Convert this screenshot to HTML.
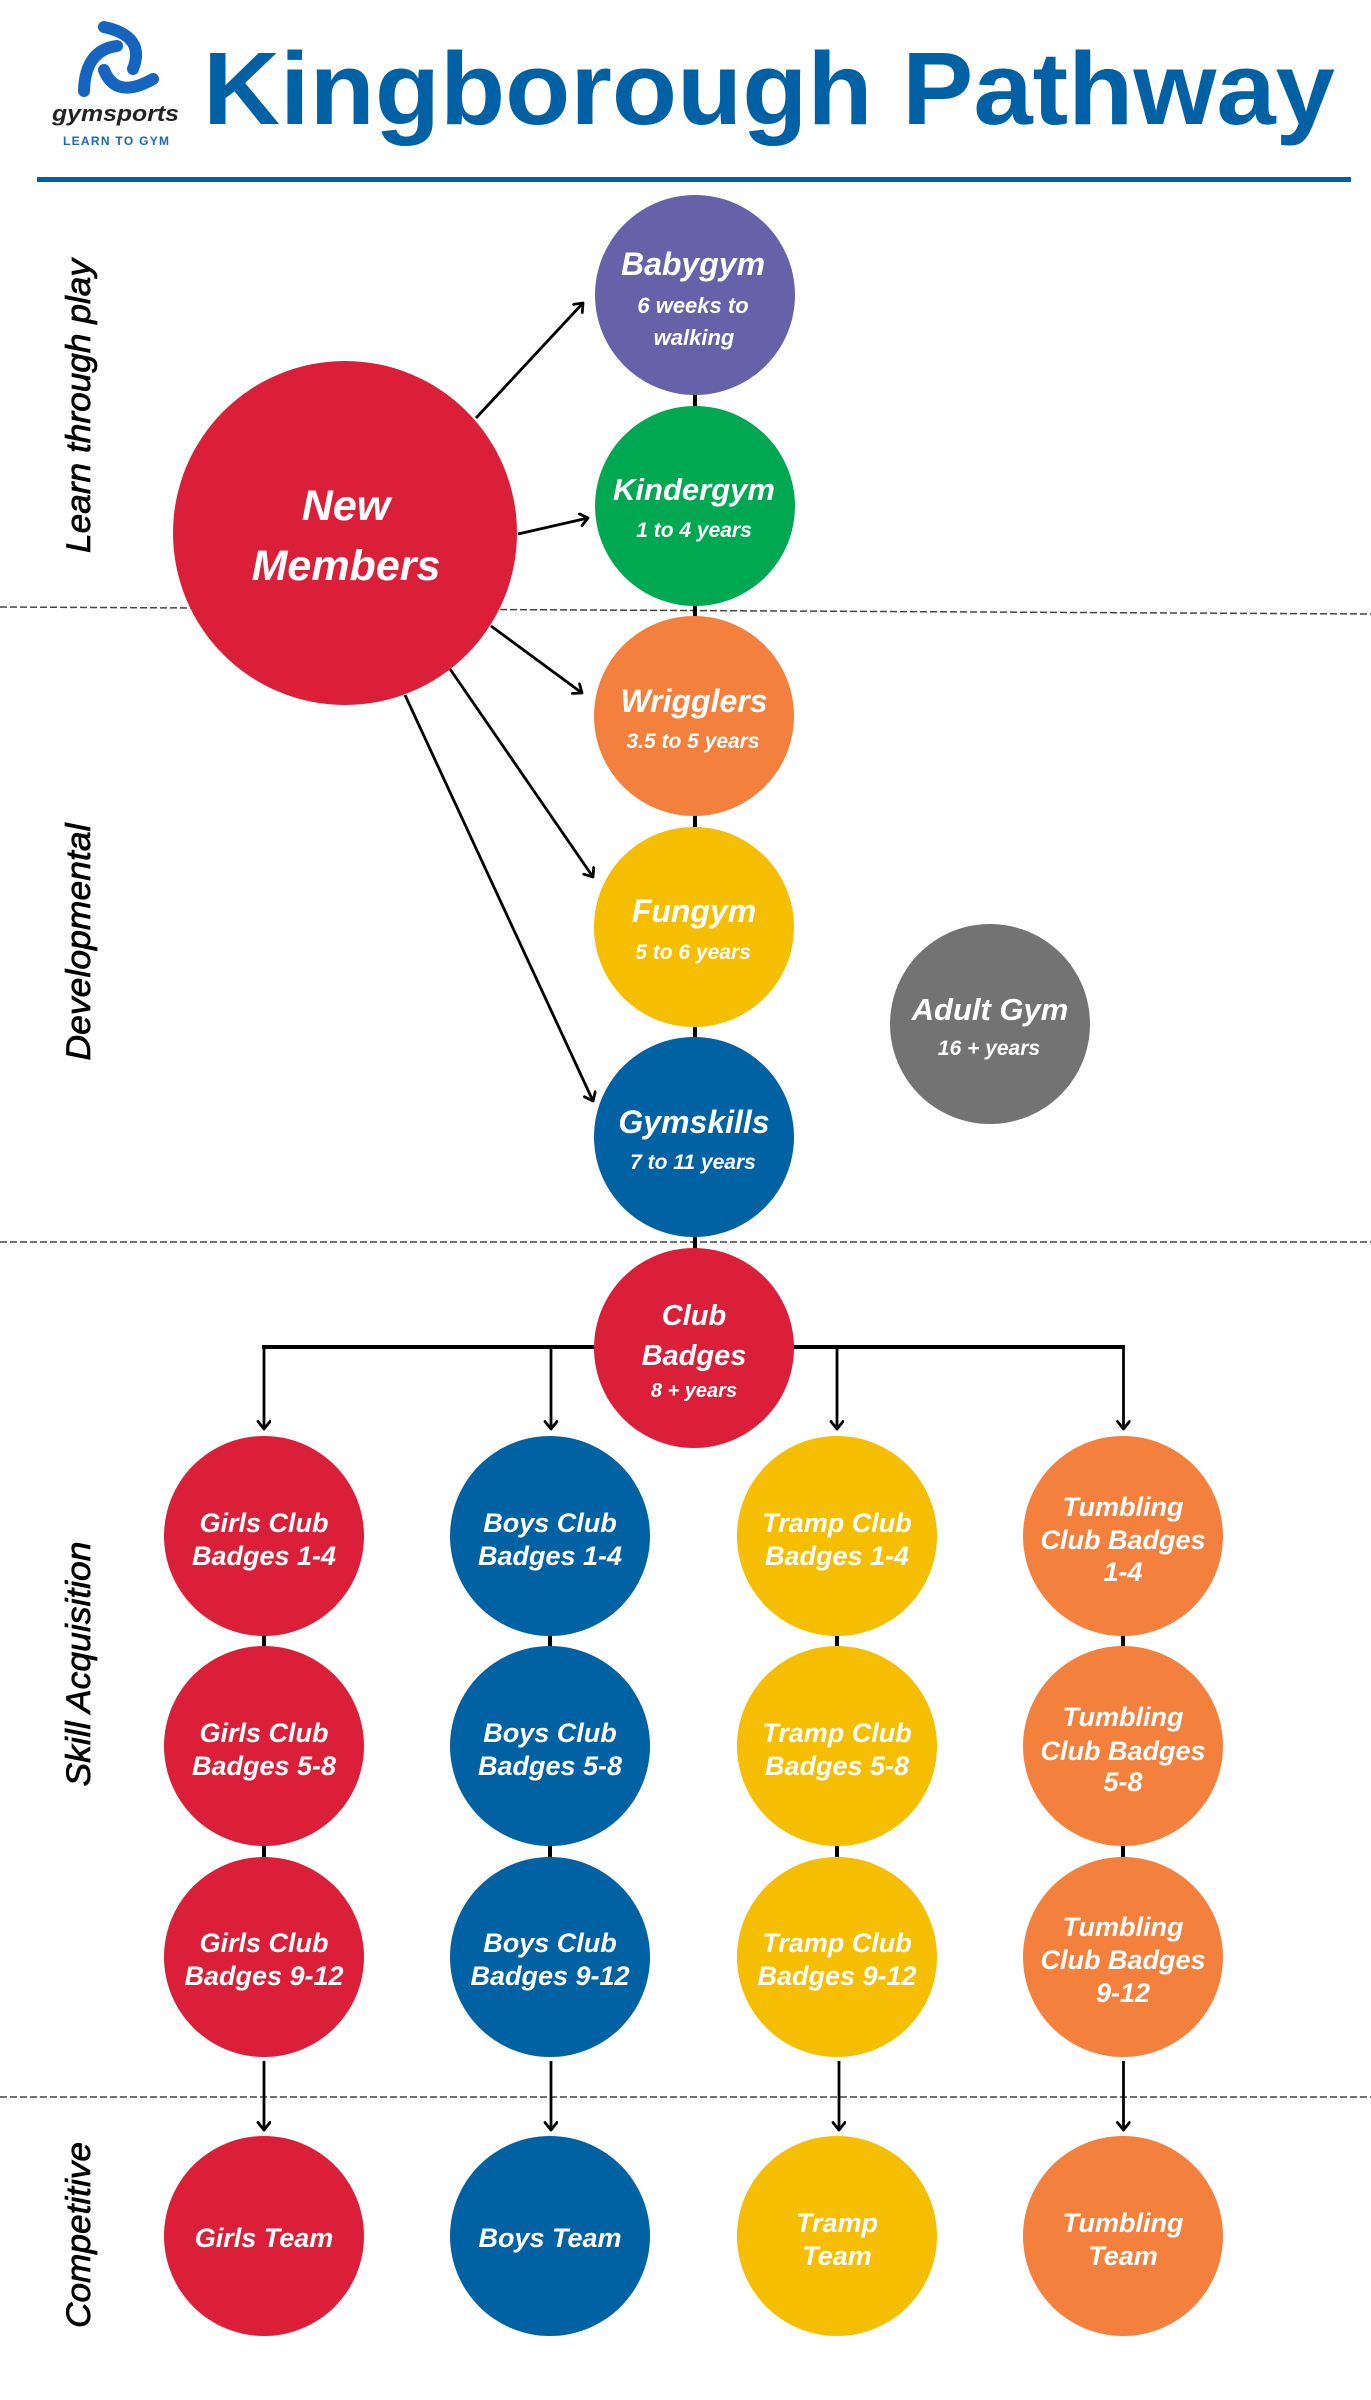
<!DOCTYPE html>
<html>
<head>
<meta charset="utf-8">
<style>
  html,body{margin:0;padding:0;background:#fff;}
  body{width:1371px;height:2400px;overflow:hidden;}
  svg{display:block;}
  .t{font-family:"Liberation Sans",sans-serif;font-weight:bold;font-style:italic;fill:#fff;text-anchor:middle;}
  .lab{font-family:"Liberation Sans",sans-serif;font-style:italic;fill:#000;stroke:#000;stroke-width:0.7;text-anchor:middle;}
</style>
</head>
<body>
<svg width="1371" height="2400" viewBox="0 0 1371 2400" xmlns="http://www.w3.org/2000/svg">
  <defs>
    <marker id="ah" markerUnits="userSpaceOnUse" markerWidth="16" markerHeight="16" refX="9" refY="7" orient="auto">
      <path d="M1.5,1 L9,7 L1.5,13" fill="none" stroke="#000" stroke-width="2.8" stroke-linecap="round" stroke-linejoin="round"/>
    </marker>
  </defs>

  <!-- Header logo -->
  <g fill="none" stroke="#1565c0" stroke-linecap="round">
    <path d="M104,27 Q146,36 133,69" stroke-width="12"/>
    <path d="M117,46 Q85,50 84,91" stroke-width="12"/>
    <path d="M104,70 Q116,100 153,79" stroke-width="12"/>
  </g>
  <text x="52" y="121" font-family="Liberation Sans, sans-serif" font-weight="bold" font-style="italic" font-size="22" fill="#222" textLength="127" lengthAdjust="spacingAndGlyphs">gymsports</text>
  <text x="63" y="145" font-family="Liberation Sans, sans-serif" font-weight="bold" font-size="12" fill="#1a66c0" textLength="106" lengthAdjust="spacing">LEARN TO GYM</text>

  <!-- Title -->
  <text x="203" y="124" font-family="Liberation Sans, sans-serif" font-weight="bold" font-size="103" fill="#0061a5" textLength="1132" lengthAdjust="spacingAndGlyphs">Kingborough Pathway</text>
  <rect x="37" y="177" width="1314" height="5" fill="#0061a5"/>

  <!-- Dashed section lines -->
  <g stroke="#444" stroke-width="1.5" stroke-dasharray="7 3" fill="none">
    <line x1="0" y1="607" x2="1371" y2="614"/>
    <line x1="0" y1="1242" x2="1371" y2="1242"/>
    <line x1="0" y1="2097" x2="1371" y2="2097"/>
  </g>

  <!-- Section labels -->
  <text class="lab" font-size="34" transform="translate(90,406) rotate(-90)" textLength="294" lengthAdjust="spacingAndGlyphs">Learn through play</text>
  <text class="lab" font-size="34" transform="translate(90,942) rotate(-90)" textLength="237" lengthAdjust="spacingAndGlyphs">Developmental</text>
  <text class="lab" font-size="34" transform="translate(90,1664) rotate(-90)" textLength="245" lengthAdjust="spacingAndGlyphs">Skill Acquisition</text>
  <text class="lab" font-size="34" transform="translate(90,2235) rotate(-90)" textLength="186" lengthAdjust="spacingAndGlyphs">Competitive</text>

  <!-- Connectors -->
  <g stroke="#000" stroke-width="4" fill="none">
    <line x1="695" y1="295" x2="695" y2="1348"/>
    <line x1="264" y1="1536" x2="264" y2="1957"/>
    <line x1="550" y1="1536" x2="550" y2="1957"/>
    <line x1="837" y1="1536" x2="837" y2="1957"/>
    <line x1="1123" y1="1536" x2="1123" y2="1957"/>
    <line x1="262" y1="1347" x2="1125" y2="1347"/>
  </g>

  <!-- Arrows -->
  <g stroke="#000" stroke-width="2.8" fill="none" marker-end="url(#ah)">
    <line x1="476" y1="418" x2="583" y2="303"/>
    <line x1="518" y1="534" x2="588" y2="518"/>
    <line x1="491" y1="626" x2="582" y2="693"/>
    <line x1="450" y1="669" x2="593" y2="877"/>
    <line x1="405" y1="695" x2="593" y2="1101"/>

    <line x1="264" y1="1347" x2="264" y2="1429"/>
    <line x1="551" y1="1349" x2="551" y2="1429"/>
    <line x1="837" y1="1349" x2="837" y2="1429"/>
    <line x1="1123.5" y1="1347" x2="1123.5" y2="1429"/>

    <line x1="264" y1="2061" x2="264" y2="2130"/>
    <line x1="551" y1="2061" x2="551" y2="2130"/>
    <line x1="839" y1="2061" x2="839" y2="2130"/>
    <line x1="1123.5" y1="2061" x2="1123.5" y2="2130"/>
  </g>

  <!-- Main column circles -->
  <circle cx="345" cy="533" r="172" fill="#db1f38"/>
  <circle cx="695" cy="295" r="100" fill="#6662a9"/>
  <circle cx="695" cy="506" r="100" fill="#00a851"/>
  <circle cx="694" cy="716" r="100" fill="#f4803e"/>
  <circle cx="694" cy="927" r="100" fill="#f5be00"/>
  <circle cx="694" cy="1137" r="100" fill="#0062a3"/>
  <circle cx="694" cy="1348" r="100" fill="#db1f38"/>
  <circle cx="990" cy="1024" r="100" fill="#737373"/>

  <!-- Grid circles -->
  <g>
    <circle cx="264" cy="1536" r="100" fill="#db1f38"/>
    <circle cx="550" cy="1536" r="100" fill="#0062a3"/>
    <circle cx="837" cy="1536" r="100" fill="#f5be00"/>
    <circle cx="1123" cy="1536" r="100" fill="#f4803e"/>

    <circle cx="264" cy="1746" r="100" fill="#db1f38"/>
    <circle cx="550" cy="1746" r="100" fill="#0062a3"/>
    <circle cx="837" cy="1746" r="100" fill="#f5be00"/>
    <circle cx="1123" cy="1746" r="100" fill="#f4803e"/>

    <circle cx="264" cy="1957" r="100" fill="#db1f38"/>
    <circle cx="550" cy="1957" r="100" fill="#0062a3"/>
    <circle cx="837" cy="1957" r="100" fill="#f5be00"/>
    <circle cx="1123" cy="1957" r="100" fill="#f4803e"/>

    <circle cx="264" cy="2236" r="100" fill="#db1f38"/>
    <circle cx="550" cy="2236" r="100" fill="#0062a3"/>
    <circle cx="837" cy="2236" r="100" fill="#f5be00"/>
    <circle cx="1123" cy="2236" r="100" fill="#f4803e"/>
  </g>

  <!-- Main texts -->
  <text class="t" x="346" y="520" font-size="43">New</text>
  <text class="t" x="346" y="580" font-size="43">Members</text>

  <text class="t" x="693" y="275" font-size="32">Babygym</text>
  <text class="t" x="693" y="313" font-size="22">6 weeks to</text>
  <text class="t" x="694" y="345" font-size="22">walking</text>

  <text class="t" x="694" y="500" font-size="31">Kindergym</text>
  <text class="t" x="694" y="537" font-size="21">1 to 4 years</text>

  <text class="t" x="694" y="712" font-size="32">Wrigglers</text>
  <text class="t" x="693" y="748" font-size="21">3.5 to 5 years</text>

  <text class="t" x="694" y="922" font-size="32">Fungym</text>
  <text class="t" x="693" y="959" font-size="21">5 to 6 years</text>

  <text class="t" x="694" y="1133" font-size="32">Gymskills</text>
  <text class="t" x="693" y="1169" font-size="21">7 to 11 years</text>

  <text class="t" x="990" y="1020" font-size="31">Adult Gym</text>
  <text class="t" x="989" y="1055" font-size="21">16 + years</text>

  <text class="t" x="694" y="1325" font-size="29">Club</text>
  <text class="t" x="694" y="1365" font-size="29">Badges</text>
  <text class="t" x="694" y="1397" font-size="20">8 + years</text>

  <!-- Row 1 -->
  <text class="t" x="264" y="1532" font-size="27">Girls Club</text>
  <text class="t" x="264" y="1565" font-size="27">Badges 1-4</text>
  <text class="t" x="550" y="1532" font-size="27">Boys Club</text>
  <text class="t" x="550" y="1565" font-size="27">Badges 1-4</text>
  <text class="t" x="837" y="1532" font-size="27">Tramp Club</text>
  <text class="t" x="837" y="1565" font-size="27">Badges 1-4</text>
  <text class="t" x="1123" y="1516" font-size="27">Tumbling</text>
  <text class="t" x="1123" y="1549" font-size="27">Club Badges</text>
  <text class="t" x="1123" y="1581" font-size="27">1-4</text>

  <!-- Row 2 -->
  <text class="t" x="264" y="1742" font-size="27">Girls Club</text>
  <text class="t" x="264" y="1775" font-size="27">Badges 5-8</text>
  <text class="t" x="550" y="1742" font-size="27">Boys Club</text>
  <text class="t" x="550" y="1775" font-size="27">Badges 5-8</text>
  <text class="t" x="837" y="1742" font-size="27">Tramp Club</text>
  <text class="t" x="837" y="1775" font-size="27">Badges 5-8</text>
  <text class="t" x="1123" y="1726" font-size="27">Tumbling</text>
  <text class="t" x="1123" y="1760" font-size="27">Club Badges</text>
  <text class="t" x="1123" y="1791" font-size="27">5-8</text>

  <!-- Row 3 -->
  <text class="t" x="264" y="1952" font-size="27">Girls Club</text>
  <text class="t" x="264" y="1985" font-size="27">Badges 9-12</text>
  <text class="t" x="550" y="1952" font-size="27">Boys Club</text>
  <text class="t" x="550" y="1985" font-size="27">Badges 9-12</text>
  <text class="t" x="837" y="1952" font-size="27">Tramp Club</text>
  <text class="t" x="837" y="1985" font-size="27">Badges 9-12</text>
  <text class="t" x="1123" y="1936" font-size="27">Tumbling</text>
  <text class="t" x="1123" y="1969" font-size="27">Club Badges</text>
  <text class="t" x="1123" y="2002" font-size="27">9-12</text>

  <!-- Row 4 -->
  <text class="t" x="264" y="2247" font-size="27">Girls Team</text>
  <text class="t" x="550" y="2247" font-size="27">Boys Team</text>
  <text class="t" x="837" y="2232" font-size="27">Tramp</text>
  <text class="t" x="837" y="2265" font-size="27">Team</text>
  <text class="t" x="1123" y="2232" font-size="27">Tumbling</text>
  <text class="t" x="1123" y="2265" font-size="27">Team</text>
</svg>
</body>
</html>
